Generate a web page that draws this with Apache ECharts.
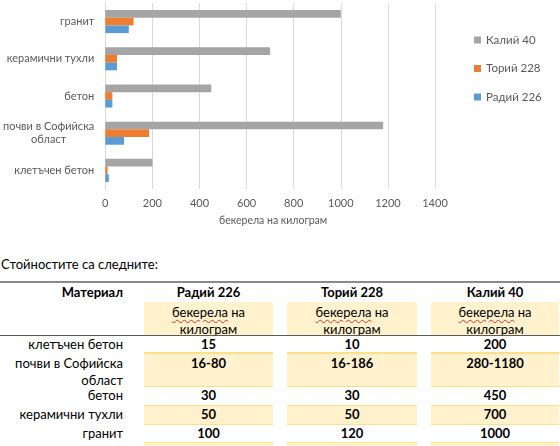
<!DOCTYPE html>
<html>
<head>
<meta charset="utf-8">
<script src="https://cdn.jsdelivr.net/npm/echarts@6/dist/echarts.min.js"></script>
<style>
  body { margin: 0; background: #fff; }
  #page { position: relative; width: 560px; height: 446px; overflow: hidden; font-family: Lato, "Open Sans", sans-serif; }
  #chart { position: absolute; left: 0; top: 0; width: 560px; height: 240px; }
  .t { position: absolute; font-size: 13px; line-height: 17px; color: #000; white-space: nowrap; }
  .b { font-weight: bold; }
  .c { text-align: center; }
  .r { text-align: right; }
  .cell { position: absolute; box-sizing: border-box; }
  .spell { text-decoration: underline wavy #e03030; text-decoration-thickness: 1px; text-underline-offset: 2px; }
</style>
</head>
<body>
<div id="page">
  <div id="chart"></div>
</div>
<script>
// категории (отдолу нагоре, както в графиката) и стойности
const materials = ['клетъчен бетон', 'почви в Софийска\nобласт', 'бетон', 'керамични тухли', 'гранит']
const seriesNames = ['Радий 226', 'Торий 228', 'Калий 40']
const radium = [15, 80, 30, 50, 100]
const thorium = [10, 186, 30, 50, 120]
const potassium = [200, 1180, 450, 700, 1000]
const xTicks = [0, 200, 400, 600, 800, 1000, 1200, 1400]
const unitName = 'бекерела на килограм'

// таблицата под графиката
const tableHead = ['Материал', 'Радий 226', 'Торий 228', 'Калий 40']
const tableRadium = ['15', '16-80', '30', '50', '100']
const tableThorium = ['10', '16-186', '30', '50', '120']
const tablePotassium = ['200', '280-1180', '450', '700', '1000']

const FONT = 'Lato, "Open Sans", sans-serif'
const TXT = '#595959'
const COLORS = { 'Радий 226': '#5B9BD5', 'Торий 228': '#ED7D31', 'Калий 40': '#A5A5A5' }
const values = { 'Радий 226': radium, 'Торий 228': thorium, 'Калий 40': potassium }

const chart = echarts.init(document.getElementById('chart'))
chart.setOption({
  animation: false,
  textStyle: { fontFamily: FONT },
  grid: { left: 104, top: 3, width: 331, height: 186 },
  legend: {
    orient: 'vertical',
    left: 469,
    top: 29,
    itemWidth: 7,
    itemHeight: 7,
    itemGap: 16.5,
    icon: 'rect',
    data: ['Калий 40', 'Торий 228', 'Радий 226'],
    textStyle: { color: TXT, fontSize: 11.5, fontFamily: FONT }
  },
  xAxis: {
    type: 'value',
    min: xTicks[0],
    max: xTicks[xTicks.length - 1],
    interval: xTicks[1] - xTicks[0],
    name: unitName,
    nameLocation: 'middle',
    nameGap: 26,
    nameTextStyle: { color: TXT, fontSize: 10.5, padding: [0, 0, 0, 6] },
    axisLine: { show: false },
    axisTick: { show: false },
    splitLine: { lineStyle: { color: '#D9D9D9' } },
    axisLabel: { color: TXT, fontSize: 11, margin: 9, formatter: v => String(v) }
  },
  yAxis: {
    type: 'category',
    data: materials,
    axisTick: { show: false },
    axisLine: { lineStyle: { color: '#D9D9D9' } },
    axisLabel: {
      color: TXT,
      fontSize: 11,
      margin: 11,
      lineHeight: 13,
      formatter: v => v.indexOf('\n') < 0 ? v : v.split('\n').map(s => '{c|' + s + '}').join('\n'),
      rich: { c: { align: 'center', color: TXT, fontSize: 11, lineHeight: 13, fontFamily: FONT } }
    }
  },
  series: ['Калий 40', 'Торий 228', 'Радий 226'].map(n => ({
    name: n,
    type: 'bar',
    barGap: '0%',
    barCategoryGap: '38%',
    itemStyle: { color: COLORS[n] },
    data: values[n]
  }))
})

// --- таблица ---
const page = document.getElementById('page')
function el(cls, style, html) {
  const d = document.createElement('div')
  d.className = cls
  Object.assign(d.style, style)
  d.innerHTML = html || ''
  page.appendChild(d)
  return d
}
const cols = [[144, 273], [287, 417], [431, 559]]
const colData = [tableRadium, tableThorium, tablePotassium]

el('t', { left: '1px', top: '256px' }, 'Стойностите са следните:')
el('cell', { left: '0', top: '281px', width: '560px', height: '2px', background: '#8a8a8a' })

// заглавен ред
el('t b r', { left: '0', width: '123px', top: '284px' }, tableHead[0])
cols.forEach((c, i) => {
  el('t b c', { left: c[0] + 'px', width: (c[1] - c[0]) + 'px', top: '284px' }, tableHead[i + 1])
  el('cell', { left: c[0] + 'px', width: (c[1] - c[0]) + 'px', top: '302px', height: '33px', background: '#FFF2CC' })
  el('t c', { left: c[0] + 'px', width: (c[1] - c[0]) + 'px', top: '303.5px' },
    '<span class="spell">бекерела</span> на<br>килограм')
})
el('cell', { left: '0', top: '335px', width: '560px', height: '1px', background: '#595959' })

// редове с данни
const rows = [[336, 17], [353, 34], [387, 19], [406, 19], [425, 18], [443, 18]]
rows.forEach((r, i) => {
  const shaded = i % 2 === 1
  cols.forEach((c, j) => {
    el('cell', {
      left: c[0] + 'px', width: (c[1] - c[0]) + 'px', top: r[0] + 'px', height: r[1] + 'px',
      background: shaded ? '#FFF2CC' : 'transparent',
      borderBottom: '1px solid #FFE08A',
      borderTop: i === 1 ? '1px solid #FFE08A' : 'none'
    })
    if (i < materials.length) {
      el('t b c', { left: c[0] + 'px', width: (c[1] - c[0]) + 'px', top: (r[0] + (i === 1 ? 2 : 0)) + 'px' }, colData[j][i])
    }
  })
  if (i < materials.length) {
    el('t r', { left: '0', width: '123px', top: (r[0] + (i === 1 ? 2 : 0)) + 'px' }, materials[i].replace('\n', '<br>'))
  }
})
</script>
</body>
</html>
